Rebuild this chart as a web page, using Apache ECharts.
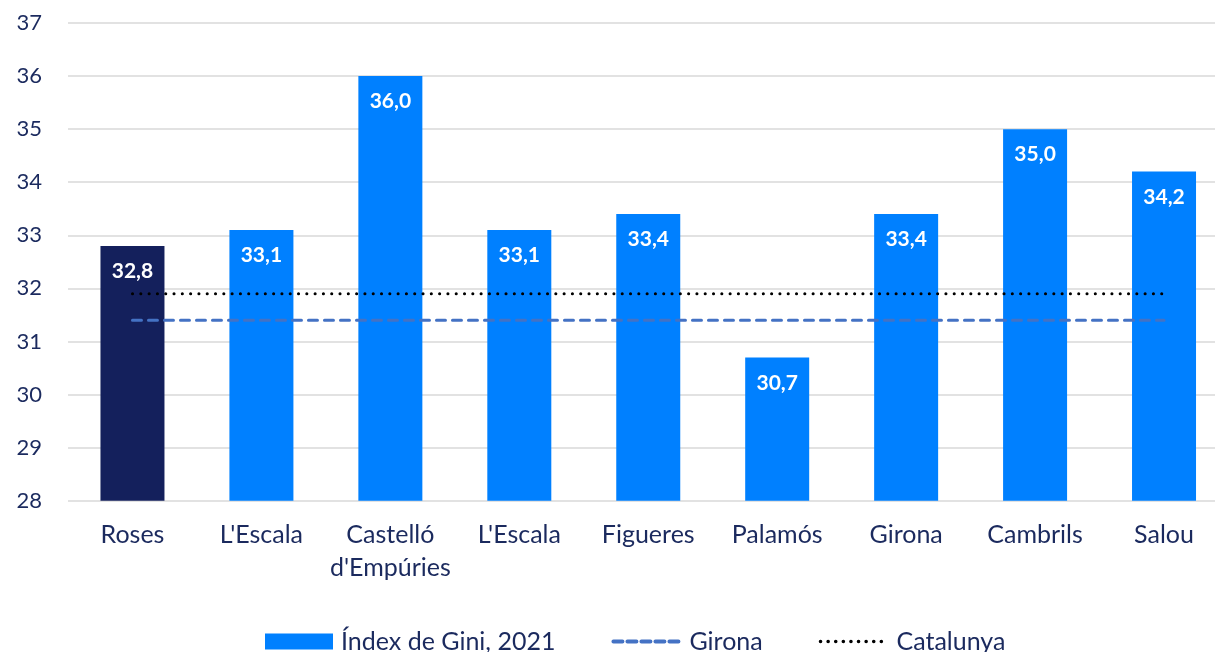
<!DOCTYPE html>
<html><head><meta charset="utf-8">
<script src="https://cdn.jsdelivr.net/npm/echarts@6/dist/echarts.min.js"></script>
<style>html,body{margin:0;padding:0;background:#fff}#c{width:1215px;height:652px}</style>
</head><body><div id="c"></div>
<script>
const categories = ["Roses", "L'Escala", "Castelló\nd'Empúries", "L'Escala", "Figueres", "Palamós", "Girona", "Cambrils", "Salou"];
const giniValues = [32.8, 33.1, 36.0, 33.1, 33.4, 30.7, 33.4, 35.0, 34.2];
const gironaValues = [31.4, 31.4, 31.4, 31.4, 31.4, 31.4, 31.4, 31.4, 31.4];
const catalunyaValues = [31.9, 31.9, 31.9, 31.9, 31.9, 31.9, 31.9, 31.9, 31.9];
const seriesNames = ["Índex de Gini, 2021", "Girona", "Catalunya"];

const FONT = 'Lato';
const TXT = '#1B2A5E';
const chart = echarts.init(document.getElementById('c'));
chart.setOption({
  animation: false,
  textStyle: { fontFamily: FONT },
  grid: { left: 68, top: 23, width: 1160.5, height: 477.7, containLabel: false, outerBoundsMode: 'none' },
  legend: {
    top: 624, left: 260,
    itemWidth: 68, itemHeight: 16, itemGap: 56,
    textStyle: { fontFamily: FONT, fontSize: 25, color: TXT, padding: [0, 0, 0, 3] },
    data: [
      { name: seriesNames[0], icon: 'rect' },
      { name: seriesNames[1], lineStyle: { width: 4, type: [9, 5], cap: 'round' } },
      { name: seriesNames[2], lineStyle: { width: 3.5, type: [0.1, 7.5], cap: 'round' } }
    ]
  },
  xAxis: {
    type: 'category', data: categories,
    axisLine: { show: false }, axisTick: { show: false },
    axisLabel: { fontFamily: FONT, fontSize: 25, color: TXT, margin: 18, lineHeight: 33, interval: 0 }
  },
  yAxis: {
    type: 'value', min: 28, max: 37, interval: 1,
    axisLine: { show: false }, axisTick: { show: false },
    axisLabel: { fontFamily: FONT, fontSize: 22, color: TXT, margin: 26 },
    splitLine: { lineStyle: { color: '#D9D9D9', width: 1.5 } }
  },
  series: [
    {
      name: seriesNames[0], type: 'bar', barWidth: 64,
      itemStyle: { color: '#0080FF' },
      data: giniValues.map((v, i) => i === 0 ? { value: v, itemStyle: { color: '#14205C' } } : v),
      label: {
        show: true, position: 'insideTop', distance: 15,
        color: '#fff', fontFamily: FONT, fontWeight: 'bold', fontSize: 21,
        formatter: p => p.value.toFixed(1).replace('.', ',')
      },
      z: 1
    },
    {
      name: seriesNames[1], type: 'line', data: gironaValues, symbol: 'none',
      lineStyle: { color: '#4472C4', width: 3, type: [9, 7], cap: 'round' },
      itemStyle: { color: 'rgba(0,0,0,0)' }, z: 3
    },
    {
      name: seriesNames[2], type: 'line', data: catalunyaValues, symbol: 'none',
      lineStyle: { color: '#000000', width: 3, type: [0.1, 8.2], cap: 'round' },
      itemStyle: { color: 'rgba(0,0,0,0)' }, z: 3
    }
  ]
});
</script></body></html>
